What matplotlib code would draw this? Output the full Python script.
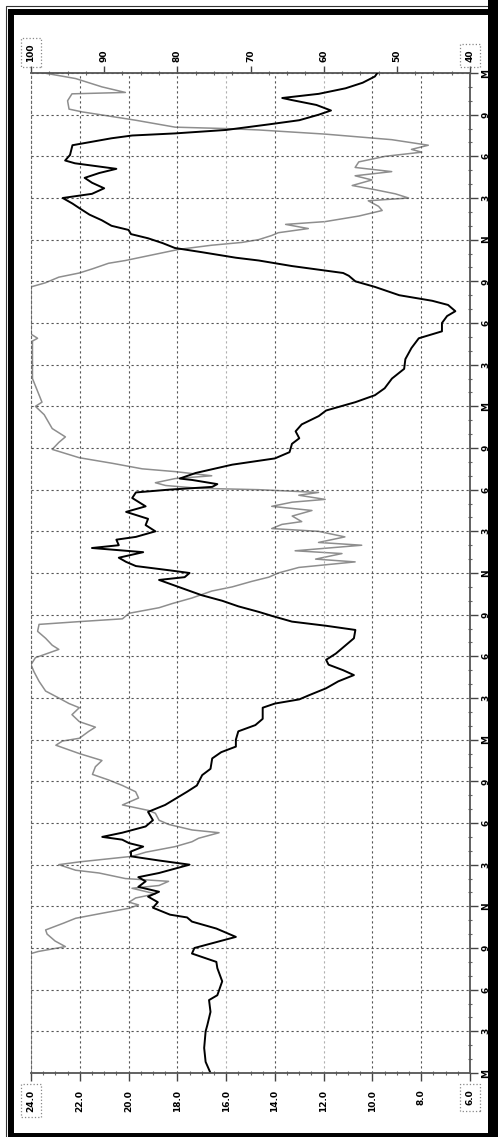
import matplotlib.pyplot as plt
from matplotlib.ticker import MultipleLocator, FixedLocator
from matplotlib.patches import Rectangle

# temperature trace (left/bottom scale), hours from start
hours_temp = [0, 0.8, 1.8, 3.0, 3.45, 4.4, 5.25, 5.6, 6.6, 7.55, 8.0, 8.6, 9.0, 9.8, 10.4, 10.9,
              11.2, 11.4, 11.9, 12.3, 12.7, 13.05, 13.4, 13.8, 14.1, 14.4, 15.0, 15.3, 15.6, 15.95,
              16.3, 16.55, 16.8, 17.0, 17.3, 17.75, 18.2, 18.8, 19.3, 20.25, 20.7, 21.45, 21.9,
              22.65, 23.1, 23.5, 24.0, 24.6, 25.05, 25.5, 26.0, 26.3, 26.6, 26.9, 27.2, 27.7, 28.2,
              28.65, 29.0, 29.4, 29.75, 30.2, 30.8, 31.3, 31.9, 32.2, 32.5, 32.9, 33.2, 33.6, 34.0,
              34.4, 34.9, 35.5, 35.7, 36.0, 36.2, 36.5, 36.8, 37.1, 37.5, 37.8, 38.0, 38.4, 38.6,
              39.0, 39.45, 39.9, 40.4, 40.8, 41.4, 41.8, 42.0, 42.2, 42.4, 42.7, 42.8, 43.2, 43.8,
              44.25, 44.7, 45.3, 45.7, 46.2, 46.7, 47.3, 47.7, 48.1, 48.3, 48.8, 49.3, 50.0, 50.7,
              51.4, 52.2, 52.9, 53.4, 54.0, 54.5, 54.85, 55.3, 55.6, 56.0, 56.6, 57.0, 57.4, 57.6,
              58.1, 58.5, 58.7, 59.1, 59.4, 59.75, 60.1, 60.4, 60.7, 61.0, 61.4, 61.8, 62.25, 62.6,
              63.0, 63.3, 63.7, 64.1, 64.45, 64.8, 65.1, 65.5, 65.7, 66.1, 66.8, 67.3, 67.5, 67.65,
              67.9, 68.3, 68.6, 69.0, 69.3, 69.7, 70.05, 70.2, 70.5, 70.9, 71.3, 71.75, 72.0]
temp = [16.64, 16.84, 16.9, 16.84, 16.77, 16.64, 16.7, 16.36, 16.16, 16.36, 16.4, 17.4, 17.3, 15.6,
        16.4, 17.4, 17.6, 18.3, 19.0, 18.8, 19.2, 18.75, 19.6, 19.3, 19.6, 18.75, 17.5, 18.75, 19.9,
        19.9, 19.4, 19.98, 20.26, 21.08, 20.26, 19.3, 19.0, 19.2, 18.5, 17.6, 17.2, 16.98, 16.64,
        16.57, 16.2, 15.6, 15.6, 15.5, 14.8, 14.5, 14.5, 14.5, 14.0, 13.0, 12.6, 11.9, 11.4, 10.76,
        11.2, 11.8, 11.9, 11.5, 11.1, 10.76, 10.7, 11.9, 13.3, 14.1, 14.66, 15.5, 16.16, 17.0, 17.8,
        18.75, 17.7, 17.5, 18.35, 19.7, 20.1, 20.4, 19.4, 21.5, 20.4, 20.5, 19.7, 18.9, 19.3, 19.2,
        20.1, 19.3, 19.85, 19.7, 18.35, 16.57, 16.36, 17.4, 17.9, 17.25, 15.75, 14.0, 13.4, 13.3,
        13.0, 13.15, 12.9, 12.2, 11.9, 11.1, 10.7, 9.9, 9.5, 9.2, 8.7, 8.65, 8.4, 8.1, 7.15, 7.15,
        6.94, 6.6, 6.9, 7.55, 8.9, 9.9, 10.7, 10.97, 11.2, 13.3, 14.66, 15.6, 17.0, 18.1, 18.6, 19.2,
        19.9, 20.0, 20.7, 21.1, 21.6, 22.0, 22.3, 22.7, 21.5, 21.0, 21.5, 21.8, 21.2, 20.5, 22.2,
        22.6, 22.4, 22.3, 20.7, 19.85, 18.1, 16.0, 14.25, 13.0, 12.2, 11.7, 12.3, 13.3, 13.7, 12.2,
        11.1, 10.4, 9.9, 9.8]

# relative humidity trace (right/top scale)
hours_hum = [0, 8.6, 8.75, 9.1, 9.5, 10.0, 10.3, 10.8, 11.14, 11.5, 11.86, 12.1, 12.3, 12.6, 12.9,
             13.3, 13.5, 13.8, 14.0, 14.4, 14.6, 15.0, 15.2, 15.6, 15.9, 16.3, 16.65, 16.9, 17.3,
             17.5, 17.9, 18.2, 18.7, 18.9, 19.3, 19.8, 20.25, 20.7, 21.1, 21.5, 22.05, 22.5, 23.0,
             23.6, 23.9, 24.1, 24.6, 24.9, 25.3, 25.8, 26.3, 26.6, 27.0, 27.5, 28.2, 28.9, 29.4,
             29.9, 30.5, 30.8, 31.3, 31.8, 32.3, 32.5, 32.7, 33.1, 33.5, 33.8, 34.2, 34.7, 35.0,
             35.4, 35.7, 36.0, 36.4, 36.8, 37.0, 37.4, 37.6, 38.0, 38.2, 38.6, 39.0, 39.2, 39.5,
             39.7, 40.1, 40.5, 40.8, 41.1, 41.3, 41.6, 41.8, 42.0, 42.1, 42.3, 42.5, 42.8, 43.0,
             43.3, 43.5, 43.9, 44.3, 44.9, 45.4, 45.8, 46.4, 47.4, 48.0, 48.3, 50.0, 52.7, 52.9,
             53.2, 56.6, 56.9, 57.3, 57.6, 57.9, 58.3, 58.5, 59.0, 59.3, 59.6, 59.8, 60.0, 60.3,
             60.5, 60.8, 61.1, 61.3, 61.7, 62.1, 62.4, 62.8, 63.0, 63.3, 63.6, 63.9, 64.3, 64.6,
             64.9, 65.2, 65.6, 66.0, 66.3, 66.5, 66.8, 67.2, 67.6, 67.9, 68.0, 68.1, 68.6, 69.2,
             69.4, 70.0, 70.5, 70.6, 71.0, 71.6, 72.0]
humidity = [100, 100, 99, 95.3, 96.7, 97.8, 98.0, 95.5, 93.9, 90.3, 86.6, 85.3, 86.6, 85.7, 83.0,
            86.2, 82.5, 81.2, 87.1, 90.7, 93.9, 96.2, 93.4, 86.2, 84.3, 80.3, 78.0, 77.1, 74.3,
            78.0, 81.2, 82.5, 83.0, 83.9, 87.5, 85.3, 85.7, 87.5, 89.4, 91.6, 91.2, 90.3, 93.4,
            96.6, 95.7, 93.4, 92.1, 91.2, 93.4, 94.4, 93.4, 94.8, 96.2, 98.0, 98.9, 99.6, 100,
            99.4, 96.2, 97.1, 98.0, 99.1, 98.9, 93.4, 87.5, 86.6, 82.5, 80.7, 78.0, 75.3, 72.5,
            69.8, 67.5, 66.2, 63.4, 55.7, 61.1, 57.5, 63.9, 54.8, 60.7, 57.1, 60.7, 67.1, 65.7,
            63.0, 64.3, 61.6, 67.1, 64.3, 59.8, 63.4, 60.7, 68.9, 77.1, 81.6, 83.0, 80.3, 75.3,
            80.3, 84.8, 88.9, 93.4, 97.1, 96.2, 95.3, 97.1, 98.2, 99.4, 98.5, 99.8, 99.8, 99.1,
            100, 100, 98.0, 96.2, 93.4, 91.6, 89.4, 87.1, 82.5, 79.8, 75.3, 71.2, 68.9, 67.1,
            66.2, 62.1, 65.2, 59.8, 55.2, 52.0, 52.5, 53.9, 48.4, 50.2, 53.0, 56.1, 53.4, 55.7,
            50.7, 55.7, 55.2, 51.6, 46.6, 48.0, 45.7, 50.7, 59.8, 68.9, 73.4, 80.3, 85.7, 93.0,
            94.8, 95.0, 94.4, 87.1, 90.3, 93.9, 98.2]

time_labels = ['M', '3', '6', '9', 'N', '3', '6', '9'] * 3 + ['M']
temp_ticks = [24, 22, 20, 18, 16, 14, 12, 10, 8, 6]
hum_ticks = [100, 90, 80, 70, 60, 50, 40]

W, H = 498, 1137
fig = plt.figure(figsize=(W / 100, H / 100), dpi=100)
fig.patch.set_facecolor('white')

ax = fig.add_axes([31 / W, (H - 1073) / H, 439 / W, 1000 / H])
ax2 = ax.twiny()
ax.set_zorder(ax2.get_zorder() + 1)
ax.patch.set_visible(False)

ax2.plot(humidity, hours_hum, color='#8e8e8e', lw=1.1)
ax.plot(temp, hours_temp, color='black', lw=1.4)

ax.set_xlim(24, 6)
ax2.set_xlim(100, 40)
ax.set_ylim(0, 72)

font = dict(fontsize=6.5, fontweight='bold', family='DejaVu Sans')

# bottom (temperature) axis
ax.xaxis.set_major_locator(FixedLocator(temp_ticks))
ax.set_xticklabels([f'{v:.1f}' for v in temp_ticks], rotation=90, **font)
ax.xaxis.set_minor_locator(MultipleLocator(0.5))
ax.tick_params(axis='x', which='major', direction='out', length=6, width=1, pad=6, colors='#444')
ax.tick_params(axis='x', which='minor', direction='inout', length=3, width=0.8, colors='#666')
for lab in ax.get_xticklabels():
    lab.set_color('black')

# right (time) axis
ax.yaxis.tick_right()
ax.yaxis.set_major_locator(FixedLocator(range(0, 73, 3)))
ax.set_yticklabels(time_labels, rotation=90, va='center', **font)
ax.yaxis.set_minor_locator(MultipleLocator(1))
ax.tick_params(axis='y', which='major', direction='out', length=6, width=1, pad=2, colors='#444')
ax.tick_params(axis='y', which='minor', direction='inout', length=3, width=0.8, colors='#666')
for lab in ax.get_yticklabels():
    lab.set_color('black')

# top (humidity) axis
ax2.xaxis.set_major_locator(FixedLocator(hum_ticks))
ax2.set_xticklabels([str(v) for v in hum_ticks], rotation=90, **font)
ax2.xaxis.set_minor_locator(MultipleLocator(2.5))
ax2.tick_params(axis='x', which='major', direction='out', length=5, width=1, pad=3, colors='#444')
ax2.tick_params(axis='x', which='minor', direction='inout', length=3, width=0.8, colors='#666')
for lab in ax2.get_xticklabels():
    lab.set_color('black')

# dotted boxes around the end labels
box = dict(boxstyle='square,pad=0.6', fc='none', ec='#888', ls=':', lw=0.9)
for labs in (ax.get_xticklabels(), ax2.get_xticklabels()):
    labs[0].set_bbox(box)
    labs[-1].set_bbox(box)

# grid
ax.grid(True, which='major', ls=(0, (2, 2.5)), color='#555', lw=0.8)
for tick, v in zip(ax.xaxis.get_major_ticks(), temp_ticks):
    if v in (16, 12):
        tick.gridline.set_color('#b0b0b0')

for s in ('bottom', 'right'):
    ax.spines[s].set_color('#555')
    ax.spines[s].set_linewidth(1.3)
ax.spines['left'].set_linestyle((0, (2, 2.5)))
ax.spines['left'].set_color('#666')
ax.spines['left'].set_linewidth(0.8)
ax.spines['top'].set_visible(False)
for s in ('bottom', 'left', 'right'):
    ax2.spines[s].set_visible(False)
ax2.spines['top'].set_color('#555')
ax2.spines['top'].set_linewidth(1.3)

# outer frame
fig.add_artist(Rectangle((5.5 / W, -0.05), 1.2, 1.05 - 6 / H, transform=fig.transFigure,
                         fill=False, ec='#333', lw=0.8))
fig.add_artist(Rectangle((11 / W, (H - 1136) / H), 480 / W, 1124 / H, transform=fig.transFigure,
                         fill=False, ec='black', lw=4.3))
fig.add_artist(Rectangle((488 / W, 0), 12 / W, 1, transform=fig.transFigure,
                         fc='black', ec='none'))

fig.savefig('out.png', dpi=100, facecolor='white')
